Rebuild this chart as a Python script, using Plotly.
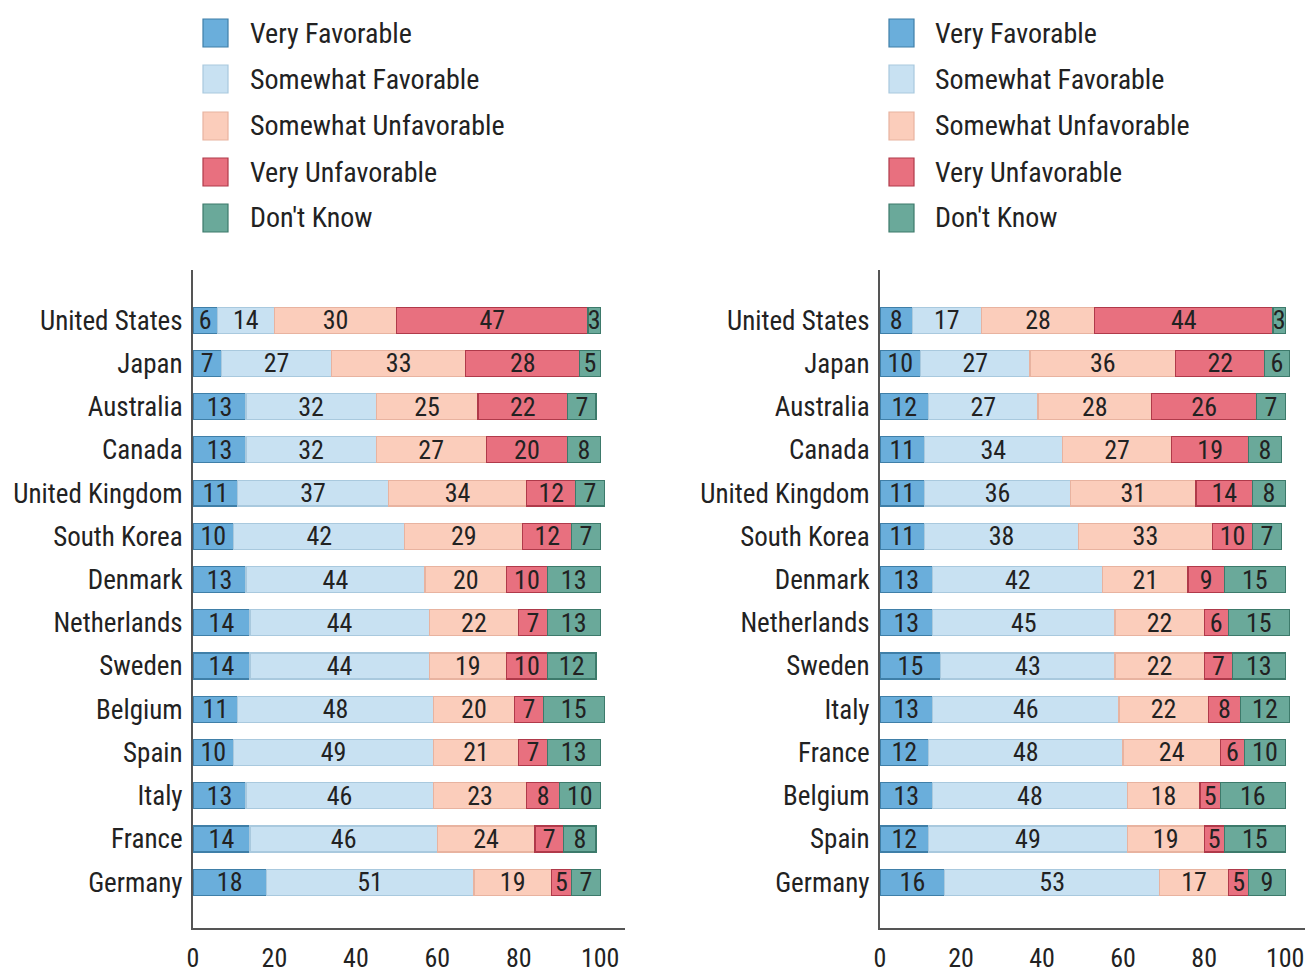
import plotly.graph_objects as go

W, H = 1305, 974

series = ["Very Favorable", "Somewhat Favorable", "Somewhat Unfavorable",
          "Very Unfavorable", "Don't Know"]
fills = ["#6aaedb", "#c8e1f2", "#fbcdbb", "#e8707f", "#6aa99a"]
borders = ["#3f7fa8", "#a9c9de", "#e8b3a0", "#b03a4a", "#3d7a6b"]

left_countries = ["United States", "Japan", "Australia", "Canada", "United Kingdom",
                  "South Korea", "Denmark", "Netherlands", "Sweden", "Belgium",
                  "Spain", "Italy", "France", "Germany"]
left_vf = [6, 7, 13, 13, 11, 10, 13, 14, 14, 11, 10, 13, 14, 18]
left_sf = [14, 27, 32, 32, 37, 42, 44, 44, 44, 48, 49, 46, 46, 51]
left_su = [30, 33, 25, 27, 34, 29, 20, 22, 19, 20, 21, 23, 24, 19]
left_vu = [47, 28, 22, 20, 12, 12, 10, 7, 10, 7, 7, 8, 7, 5]
left_dk = [3, 5, 7, 8, 7, 7, 13, 13, 12, 15, 13, 10, 8, 7]

right_countries = ["United States", "Japan", "Australia", "Canada", "United Kingdom",
                   "South Korea", "Denmark", "Netherlands", "Sweden", "Italy",
                   "France", "Belgium", "Spain", "Germany"]
right_vf = [8, 10, 12, 11, 11, 11, 13, 13, 15, 13, 12, 13, 12, 16]
right_sf = [17, 27, 27, 34, 36, 38, 42, 45, 43, 46, 48, 48, 49, 53]
right_su = [28, 36, 28, 27, 31, 33, 21, 22, 22, 22, 24, 18, 19, 17]
right_vu = [44, 22, 26, 19, 14, 10, 9, 6, 7, 8, 6, 5, 5, 5]
right_dk = [3, 6, 7, 8, 8, 7, 15, 15, 13, 12, 10, 16, 15, 9]

x_ticks = [0, 20, 40, 60, 80, 100]

FONT = "Liberation Sans Narrow, Arial Narrow, Roboto Condensed, Liberation Sans, sans-serif"
TXT = "#222222"

fig = go.Figure()

left_vals = [left_vf, left_sf, left_su, left_vu, left_dk]
right_vals = [right_vf, right_sf, right_su, right_vu, right_dk]

for i, name in enumerate(series):
    for vals, cats, xa, ya in [(left_vals, left_countries, "x", "y"),
                               (right_vals, right_countries, "x2", "y2")]:
        fig.add_trace(go.Bar(
            name=name, y=cats, x=vals[i], orientation="h",
            xaxis=xa, yaxis=ya, width=0.6,
            marker=dict(color=fills[i], line=dict(color=borders[i], width=1.2)),
            text=vals[i], texttemplate="%{x}", textposition="inside",
            insidetextanchor="middle", textangle=0,
            textfont=dict(family=FONT, size=26, color=TXT),
            showlegend=False, hoverinfo="x+y+name",
        ))

def px_x(p):
    return p / W

def px_y(p):
    return 1 - p / H

y_dom = [px_y(928), px_y(270)]
axis_common = dict(showgrid=False, zeroline=False, showline=True,
                   linecolor="#555555", linewidth=2)
x_font = dict(family=FONT, size=26, color=TXT)
y_font = dict(family=FONT, size=27, color=TXT)

fig.update_layout(
    width=W, height=H, barmode="stack",
    margin=dict(l=0, r=0, t=0, b=0, autoexpand=False),
    paper_bgcolor="white", plot_bgcolor="white",
    font=dict(family=FONT, color=TXT),
    uniformtext=dict(minsize=26, mode="show"),
    xaxis=dict(domain=[px_x(193), px_x(625)], range=[0, 106.1],
               tickvals=x_ticks, ticks="outside", ticklen=6,
               tickcolor="rgba(0,0,0,0)", anchor="y", tickfont=x_font,
               ticklabeloverflow="allow", **axis_common),
    yaxis=dict(domain=y_dom, type="category", categoryarray=left_countries,
               range=[14.06, -1.16], ticks="outside", ticklen=3,
               tickcolor="rgba(0,0,0,0)", anchor="x", tickfont=y_font,
               **axis_common),
    xaxis2=dict(domain=[px_x(880), 1.0], range=[0, 104.9],
                tickvals=x_ticks, ticks="outside", ticklen=6,
                tickcolor="rgba(0,0,0,0)", anchor="y2", tickfont=x_font,
                ticklabeloverflow="allow", **axis_common),
    yaxis2=dict(domain=y_dom, type="category", categoryarray=right_countries,
                range=[14.06, -1.16], ticks="outside", ticklen=3,
                tickcolor="rgba(0,0,0,0)", anchor="x2", tickfont=y_font,
                **axis_common),
)

# Manual legends (large swatches)
leg_y = [33, 79, 126, 172, 218]
for sx, tx in [(203, 248), (889, 933)]:
    for i, name in enumerate(series):
        cy = leg_y[i]
        fig.add_shape(type="rect", xref="paper", yref="paper",
                      x0=px_x(sx), x1=px_x(sx + 25),
                      y0=px_y(cy + 14), y1=px_y(cy - 14),
                      fillcolor=fills[i], line=dict(color=borders[i], width=1.2))
        fig.add_annotation(xref="paper", yref="paper", x=px_x(tx), y=px_y(cy),
                           text=name, showarrow=False, xanchor="left",
                           yanchor="middle",
                           font=dict(family=FONT, size=28, color=TXT))

fig.write_html("out.html")
